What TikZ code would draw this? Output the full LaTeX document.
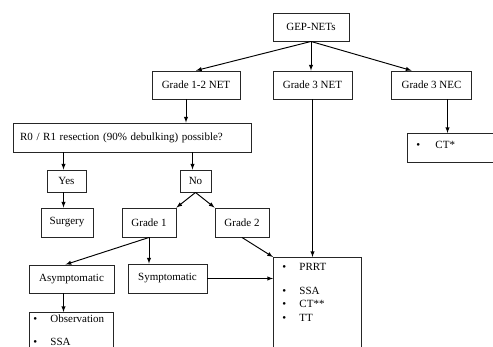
\documentclass[tikz,border=0pt]{standalone}
\usepackage{fontspec}
\setmainfont{Liberation Serif}
\newcommand{\bulitem}[2][17pt]{\makebox[#1][l]{\textbullet}#2}
\begin{document}
\begin{tikzpicture}[x=1pt,y=-1pt,>=latex,line width=0.95pt,
  box/.style={draw=black!85,minimum height=28pt,inner sep=2pt,font=\fontsize{11}{13}\selectfont},
  item/.style={anchor=north west,align=left,inner sep=0pt,font=\fontsize{11}{13.5}\selectfont}]

  \useasboundingbox (0,0) rectangle (493,347);
  \clip (0,0) rectangle (493,347);

  % top of the tree
  \node[box,minimum width=76pt] (gep) at (311,27) {GEP-NETs};
  \node[box,minimum width=88pt] (g12) at (196,85) {Grade 1-2 NET};
  \node[box,minimum width=79pt] (g3net) at (312.5,85) {Grade 3 NET};
  \node[box,minimum width=80pt] (g3nec) at (431.5,85) {Grade 3 NEC};

  % resection question and its branches
  \node[box,minimum height=29pt,text width=224pt,inner xsep=7pt,align=left] (resect) at (132,137.5) {R0 / R1 resection (90\% debulking) possible?};
  \node[box,minimum width=39pt,minimum height=22pt] (yes) at (66.5,181) {Yes};
  \node[box,minimum width=31pt,minimum height=22pt] (no) at (195.5,181) {No};
  \node[box,minimum width=52pt,minimum height=29pt] (surgery) at (67,222.5) {Surgery};
  \node[box,minimum width=54pt,minimum height=29pt] (grade1) at (149,222.5) {Grade 1};
  \node[box,minimum width=54pt,minimum height=29pt] (grade2) at (242,222.5) {Grade 2};
  \node[box,minimum width=85pt] (asym) at (71.5,279) {Asymptomatic};
  \node[box,minimum width=79pt,minimum height=29pt] (sym) at (167.5,278.5) {Symptomatic};

  % treatment boxes (they run off the page)
  \node[box,anchor=north west,minimum width=84pt,minimum height=60pt] (obs) at (29,312) {};
  \node[box,anchor=north west,minimum width=88pt,minimum height=120pt] (tx) at (273,257) {};
  \node[box,anchor=north west,minimum width=113pt,minimum height=29pt] (ct) at (407,133) {};

  % treatment items
  \node[item] (obsitems) at (33,314) {\bulitem{Observation}\\[9.5pt]\bulitem{SSA}};
  \node[item] (txitems) at (282,263) {\bulitem{PRRT}\\[10pt]\bulitem{SSA}\\\bulitem{CT**}\\\bulitem{TT}};
  \node[item,anchor=west] (ctitems) at (416,145) {\bulitem[19pt]{CT*}};

  % arrows from the top
  \draw[->] (gep.south) -- (g12.north);
  \draw[->] (gep.south) -- (gep.south |- g3net.north);
  \draw[->] (gep.south) -- ([xshift=-20pt]g3nec.north);
  \draw[->] ([xshift=-10pt]g12.south) -- ([xshift=-10pt]g12.south |- resect.north);
  \draw[->] ([xshift=16pt]g3nec.south) -- ([xshift=16pt]g3nec.south |- ct.north);
  \draw[->] (g3net.south) -- (g3net.south |- tx.north);

  % arrows below the question
  \draw[->] ([xshift=-3pt]yes.north |- resect.south) -- ([xshift=-3pt]yes.north);
  \draw[->] ([xshift=-3pt]no.north |- resect.south) -- ([xshift=-3pt]no.north);
  \draw[->] ([xshift=-3pt]yes.south) -- ([xshift=-3pt]yes.south |- surgery.north);
  \draw[->] (no.south) -- (grade1.north east);
  \draw[->] (no.south) -- (grade2.north west);
  \draw[->] (grade1.south) -- ([xshift=-6pt]asym.north);
  \draw[->] (grade1.south) -- (grade1.south |- sym.north);
  \draw[->] (grade2.south) -- (tx.north west);
  \draw[->] (sym.east) -- (sym.east -| tx.west);
  \draw[->] ([xshift=-8pt]asym.south) -- ([xshift=-8pt]asym.south |- obs.north);

\end{tikzpicture}
\end{document}
